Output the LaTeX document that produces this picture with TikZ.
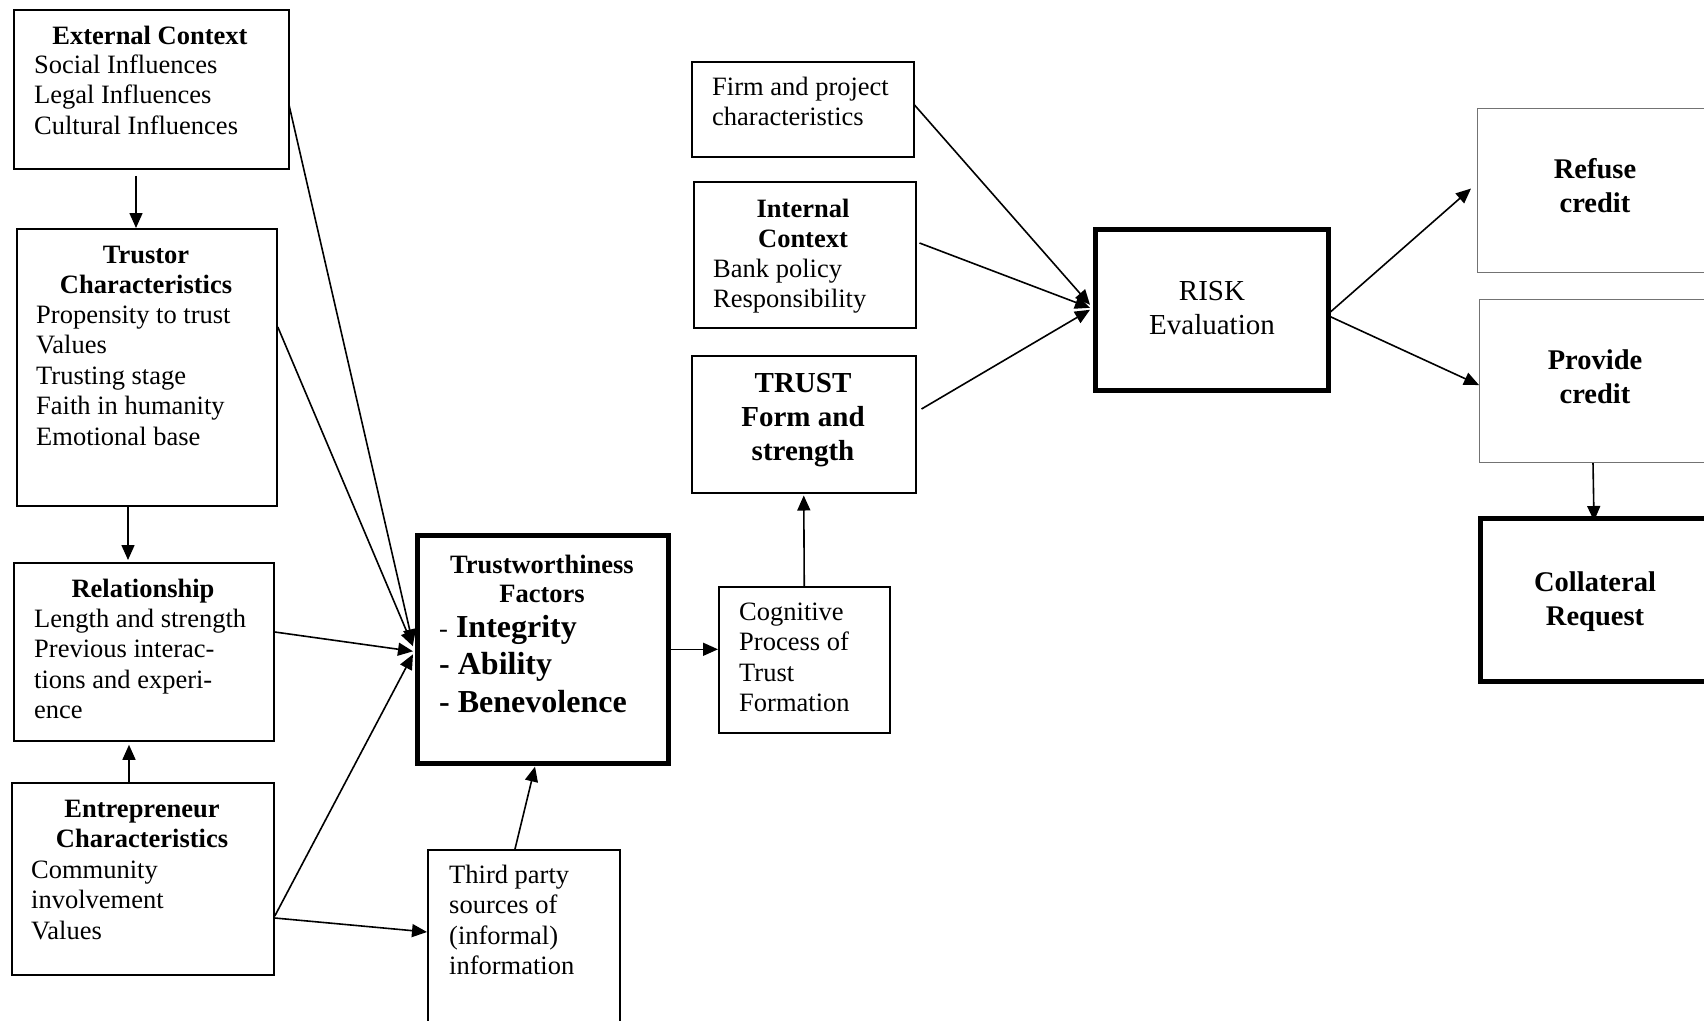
\documentclass[tikz,border=0pt]{standalone}
\usepackage{fontspec}
\setmainfont{Liberation Serif}
\usetikzlibrary{arrows.meta,calc}
\newcommand\myLines[1]{\begin{tabular}[t]{@{}l@{}}#1\end{tabular}}
\newcommand\myCent[1]{\begin{tabular}[t]{@{}c@{}}#1\end{tabular}}
\begin{document}
\begin{tikzpicture}[x=1pt,y=-1pt,
  box/.style={draw,line width=1.8pt,inner sep=0pt,anchor=north west},
  thinbox/.style={draw,line width=1.5pt,inner sep=0pt,anchor=north west},
  graybox/.style={draw=black!55,line width=1.1pt,inner sep=0pt,anchor=north west},
  thickbox/.style={draw,line width=4.6pt,inner sep=0pt,anchor=north west},
  txt/.style={inner sep=0pt,font=\fontsize{26.5}{30.5}\selectfont},
  hd/.style={inner sep=0pt,font=\fontsize{26.5}{30.5}\selectfont\bfseries},
  arr/.style={-{Triangle[length=15pt,width=13pt]},line width=1.6pt}]
\path[fill=white,use as bounding box] (0,0) rectangle (1704,1020);

% boxes
\node[box,minimum width=275pt,minimum height=159pt] (ext) at (13,9) {};
\node[box,minimum width=260pt,minimum height=277pt] (tru) at (16,228) {};
\node[box,minimum width=260pt,minimum height=178pt] (rel) at (13,562) {};
\node[box,minimum width=262pt,minimum height=192pt] (ent) at (11,782) {};
\node[thickbox,minimum width=251pt,minimum height=228pt] (tw) at (415,533) {};
\node[thinbox,minimum width=192pt,minimum height=210pt] (tp) at (427,849) {};
\node[thinbox,minimum width=171pt,minimum height=146pt] (cog) at (718,586) {};
\node[thinbox,minimum width=224pt,minimum height=137pt] (trust) at (691,355) {};
\node[thinbox,minimum width=222pt,minimum height=146pt] (int) at (693,181) {};
\node[thinbox,minimum width=222pt,minimum height=95pt] (firm) at (691,61) {};
\node[thickbox,minimum width=233pt,minimum height=161pt] (risk) at (1093,227) {};
\node[graybox,minimum width=240pt,minimum height=164pt] (ref) at (1477,108) {};
\node[graybox,minimum width=238pt,minimum height=163pt] (prov) at (1479,299) {};
\node[thickbox,minimum width=240pt,minimum height=163pt] (col) at (1478,516) {};

% texts
\node[hd,anchor=base] (exth) at (150,44) {External Context};
\node[txt,anchor=base west] (extb) at (34,73) {\myLines{Social Influences\\Legal Influences\\Cultural Influences}};

\node[hd,anchor=base] (truh) at (146,263) {\myCent{Trustor\\Characteristics}};
\node[txt,anchor=base west] (trub) at (36,323) {\myLines{Propensity to trust\\Values\\Trusting stage\\Faith in humanity\\Emotional base}};

\node[hd,anchor=base] (relh) at (143,597) {Relationship};
\node[txt,anchor=base west] (relb) at (34,627) {\myLines{Length and strength\\Previous interac-\\tions and experi-\\ence}};

\node[hd,anchor=base] (enth) at (142,817) {\myCent{Entrepreneur\\Characteristics}};
\node[txt,anchor=base west] (entb) at (31,878) {\myLines{Community\\involvement\\Values}};

\node[inner sep=0pt,font=\fontsize{26.5}{29}\selectfont\bfseries,anchor=base] (twh) at (542,573) {\myCent{Trustworthiness\\Factors}};
\node[inner sep=0pt,font=\fontsize{32}{37.5}\selectfont,anchor=base west] (twb) at (439,637)
  {\myLines{{\fontsize{26.5}{37.5}\selectfont -} \textbf{Integrity}\\\textbf{- Ability}\\\textbf{- Benevolence}}};

\node[txt,anchor=base west] (tpb) at (449,883) {\myLines{Third party\\sources of\\(informal)\\information}};
\node[txt,anchor=base west] (cogb) at (739,620) {\myLines{Cognitive\\Process of\\Trust\\Formation}};
\node[inner sep=0pt,font=\fontsize{29}{34}\selectfont\bfseries,anchor=base] (trustb) at (803,392) {\myCent{TRUST\\Form and\\strength}};
\node[hd,anchor=base] (inth) at (803,217) {\myCent{Internal\\Context}};
\node[txt,anchor=base west] (intb) at (713,277) {\myLines{Bank policy\\Responsibility}};
\node[txt,anchor=base west] (firmb) at (712,95) {\myLines{Firm and project\\characteristics}};
\node[inner sep=0pt,font=\fontsize{29}{34}\selectfont,anchor=base] (riskb) at (1212,300) {\myCent{RISK\\Evaluation}};
\node[inner sep=0pt,font=\fontsize{28.5}{34}\selectfont\bfseries,anchor=base] (refb) at (1595,178) {\myCent{Refuse\\credit}};
\node[inner sep=0pt,font=\fontsize{28.5}{34}\selectfont\bfseries,anchor=base] (provb) at (1595,369) {\myCent{Provide\\credit}};
\node[inner sep=0pt,font=\fontsize{28.5}{34}\selectfont\bfseries,anchor=base] (colb) at (1595,591) {\myCent{Collateral\\Request}};

% connectors
\draw[arr] ($(ext.south west)+(123,6)$) -- ($(tru.north west)+(120,0)$);
\draw[arr] ($(tru.south west)+(112,0)$) -- ($(rel.north west)+(115,-2)$);
\draw[arr] ($(ent.north west)+(118,0)$) -- ($(rel.south west)+(116,3)$);

\draw[arr] ($(ext.north east)+(-1,95)$) -- ($(tw.west)+(-2,-5)$);
\draw[arr] ($(tru.north east)+(0,99)$) -- ($(tw.west)+(-2,-3)$);
\draw[arr] ($(rel.north east)+(0,70)$) -- ($(tw.west)+(-2,2)$);
\draw[arr] ($(ent.north east)+(0,134)$) -- ($(tw.west)+(-2,5)$);
\draw[arr] ($(ent.north east)+(0,136)$) -- ($(tp.north west)+(0,83)$);
\draw[arr] ($(tp.north west)+(88,0)$) -- ($(tw.south west)+(120,1)$);

\draw[arr] (tw.east) -- (tw.east -| cog.west);
\draw[arr] (cog.north) -- ($(trust.south)+(0,2)$);

\draw[arr] ($(firm.north east)+(0,44)$) -- ($(risk.west)+(-3,-5)$);
\draw[arr] ($(int.north east)+(3,62)$) -- ($(risk.west)+(-3,-2)$);
\draw[arr] ($(trust.north east)+(5,54)$) -- ($(risk.west)+(-3,0)$);

\draw[arr] ($(risk.east)+(0,2)$) -- ($(ref.west)+(-6,-2)$);
\draw[arr] ($(risk.east)+(0,7)$) -- ($(prov.west)+(0,4)$);
\draw[arr] ($(prov.south west)+(114,0)$) -- ($(col.north west)+(116,5)$);
\end{tikzpicture}
\end{document}
